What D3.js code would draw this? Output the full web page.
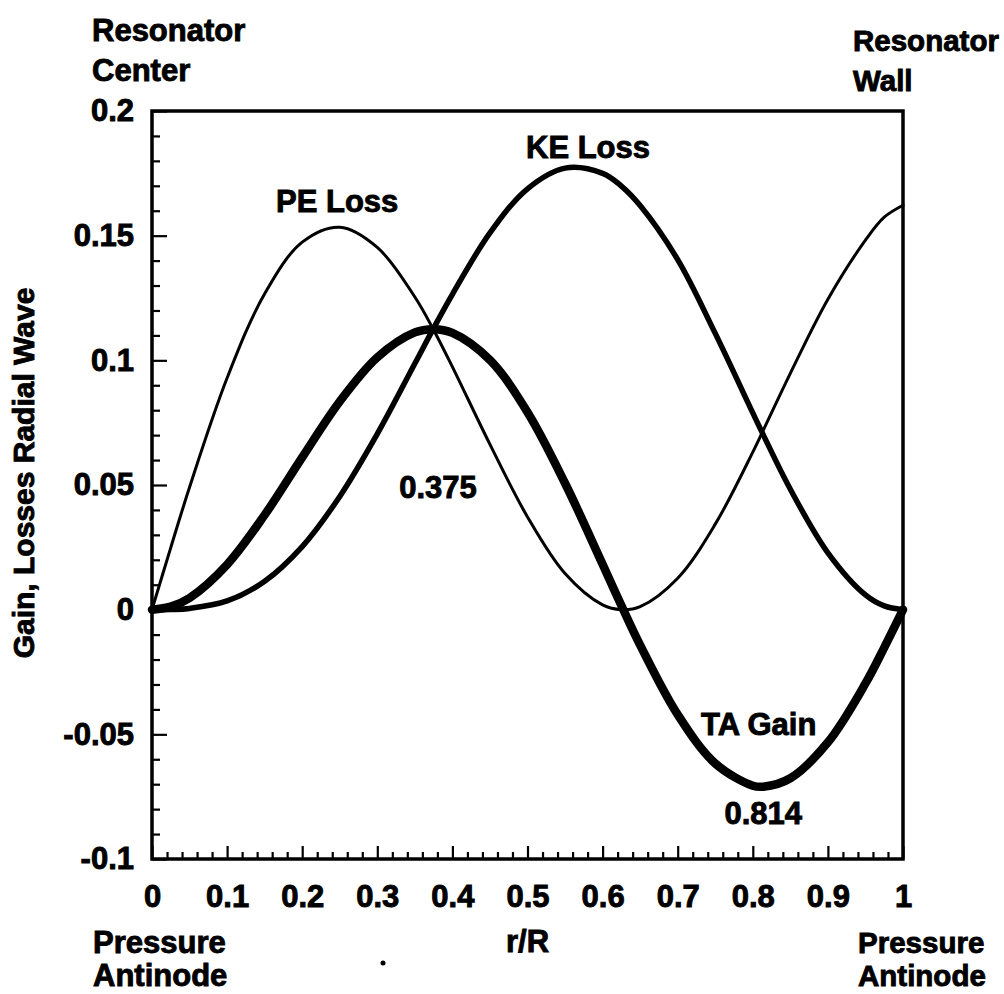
<!DOCTYPE html>
<html>
<head>
<meta charset="utf-8">
<script src="https://cdn.jsdelivr.net/npm/d3@7"></script>
<style>
  html, body { margin: 0; padding: 0; background: #fff; }
  svg text { font-family: "Liberation Sans", Arial, Helvetica, sans-serif; font-weight: bold; fill: #000; stroke: #000; stroke-width: 0.9px; }
</style>
</head>
<body>
<svg id="chart" width="1004" height="994"></svg>
<script>
// ---- data ----
const rValues = [0, 0.025, 0.05, 0.1, 0.15, 0.2, 0.25, 0.3, 0.35, 0.375, 0.4, 0.45, 0.5, 0.55, 0.6, 0.625, 0.65, 0.7, 0.75, 0.8, 0.814, 0.85, 0.9, 0.95, 0.975, 1];
const peLoss = [0, 0.0249, 0.0491, 0.0929, 0.1267, 0.1474, 0.1534, 0.1453, 0.1254, 0.1122, 0.0974, 0.0663, 0.0372, 0.0145, 0.0019, 0.0000, 0.0012, 0.0126, 0.0343, 0.0632, 0.0720, 0.0948, 0.1245, 0.1482, 0.1574, 0.1622];
const keLoss = [0, 0.00006, 0.0005, 0.0035, 0.0114, 0.0253, 0.0454, 0.0705, 0.0987, 0.1129, 0.1265, 0.1511, 0.1688, 0.1771, 0.1750, 0.1699, 0.1621, 0.1404, 0.1108, 0.0789, 0.0701, 0.0483, 0.0228, 0.0059, 0.0015, 0];
const taGain = [0, 0.0012, 0.0047, 0.0181, 0.0380, 0.0611, 0.0835, 0.1012, 0.1112, 0.1125, 0.1110, 0.1001, 0.0792, 0.0507, 0.0182, 0.0017, -0.0142, -0.0421, -0.0617, -0.0706, -0.0710, -0.0676, -0.0532, -0.0296, -0.0152, 0];

const xTickValues = [0, 0.1, 0.2, 0.3, 0.4, 0.5, 0.6, 0.7, 0.8, 0.9, 1];
const xTickLabels = ["0", "0.1", "0.2", "0.3", "0.4", "0.5", "0.6", "0.7", "0.8", "0.9", "1"];
const yTickValues = [-0.1, -0.05, 0, 0.05, 0.1, 0.15, 0.2];
const yTickLabels = ["-0.1", "-0.05", "0", "0.05", "0.1", "0.15", "0.2"];

const seriesNames = ["PE Loss", "KE Loss", "TA Gain"];
const markerLabels = ["0.375", "0.814"];

// ---- layout ----
const svg = d3.select("#chart");
const W = 1004, H = 994;
const plot = { left: 152, right: 903, top: 111, bottom: 859 };
svg.append("rect").attr("width", W).attr("height", H).attr("fill", "#fff");

const x = d3.scaleLinear().domain([0, 1]).range([plot.left, plot.right]);
const y = d3.scaleLinear().domain([-0.1, 0.2]).range([plot.bottom, plot.top]);

const FS = 31;

// minor ticks
const xMinor = d3.range(0, 51).map(i => i / 50).filter(v => Math.round(v * 50) % 5 !== 0);
const yMinor = d3.range(-10, 21).map(i => i / 100).filter(v => Math.round(v * 100) % 5 !== 0);

const gx = svg.append("g").attr("transform", `translate(0,${plot.bottom})`);
gx.call(d3.axisBottom(x).tickValues(xMinor).tickSize(-7).tickFormat(""));
gx.call(g => g.select(".domain").remove());
const gx2 = svg.append("g").attr("transform", `translate(0,${plot.bottom})`);
gx2.call(d3.axisBottom(x).tickValues(xTickValues).tickSize(-13).tickPadding(26)
  .tickFormat((d, i) => xTickLabels[i]));
gx2.call(g => g.select(".domain").remove());

const gy = svg.append("g").attr("transform", `translate(${plot.left},0)`);
gy.call(d3.axisLeft(y).tickValues(yMinor).tickSize(-8).tickFormat(""));
gy.call(g => g.select(".domain").remove());
const gy2 = svg.append("g").attr("transform", `translate(${plot.left},0)`);
gy2.call(d3.axisLeft(y).tickValues(yTickValues).tickSize(-15).tickPadding(18)
  .tickFormat((d, i) => yTickLabels[i]));
gy2.call(g => g.select(".domain").remove());

svg.selectAll(".tick line").attr("stroke", "#000").attr("stroke-width", 2.2);
svg.selectAll(".tick text").attr("font-size", FS).attr("font-family", null);

// frame
svg.append("rect")
  .attr("x", plot.left).attr("y", plot.top)
  .attr("width", plot.right - plot.left).attr("height", plot.bottom - plot.top)
  .attr("fill", "none").attr("stroke", "#000").attr("stroke-width", 3.5);

// curves
const line = d3.line().x(d => x(d[0])).y(d => y(d[1])).curve(d3.curveCatmullRom.alpha(0.5));
const series = [
  { vals: peLoss, w: 3 },
  { vals: keLoss, w: 5.5 },
  { vals: taGain, w: 8.5 }
];
series.forEach(s => {
  svg.append("path")
    .datum(rValues.map((r, i) => [r, s.vals[i]]))
    .attr("d", line)
    .attr("fill", "none").attr("stroke", "#000")
    .attr("stroke-width", s.w).attr("stroke-linejoin", "round").attr("stroke-linecap", "round");
});

// text helper
function txt(t, px, py, anchor, size) {
  return svg.append("text").attr("x", px).attr("y", py)
    .attr("font-size", size || FS).attr("text-anchor", anchor || "start").text(t);
}

// annotations
txt(seriesNames[0], 276, 212);
txt(seriesNames[1], 526, 158);
txt(seriesNames[2], 701, 735);
txt(markerLabels[0], 438, 498, "middle");
txt(markerLabels[1], x(0.814), 824, "middle");

// corner labels
txt("Resonator", 92, 41);
txt("Center", 92, 81);
txt("Resonator", 853, 51, "start", 29.5);
txt("Wall", 853, 91, "start", 29.5);
txt("Pressure", 93, 953);
txt("Antinode", 93, 986);
txt("Pressure", 858, 953, "start", 29.5);
txt("Antinode", 858, 986, "start", 29.5);
txt("r/R", x(0.5), 952, "middle");

// y axis title
svg.append("text")
  .attr("transform", `translate(34,${473}) rotate(-90)`)
  .attr("font-size", 30).attr("text-anchor", "middle")
  .text("Gain, Losses Radial Wave");

// small speck seen in the scan
svg.append("circle").attr("cx", 383).attr("cy", 963).attr("r", 2.5).attr("fill", "#000");
</script>
</body>
</html>
